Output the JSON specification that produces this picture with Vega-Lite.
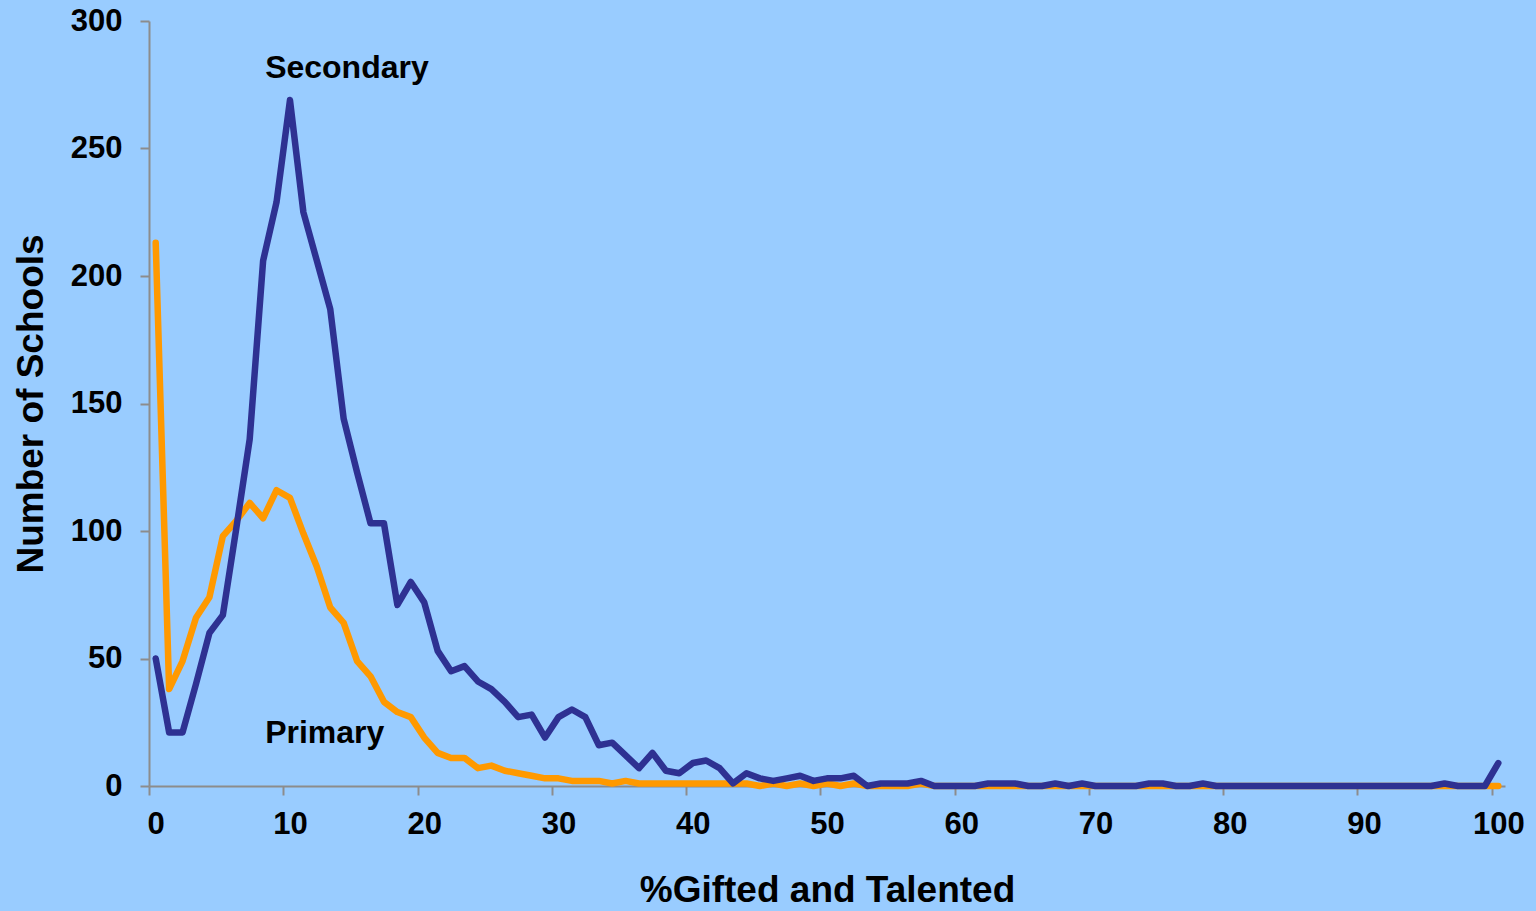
{
  "$schema": "https://vega.github.io/schema/vega-lite/v6.json",
  "width": 1356,
  "height": 765,
  "autosize": {"type": "none"},
  "padding": {"left": 149, "top": 21, "right": 31, "bottom": 125},
  "background": "#99CCFF",
  "config": {
    "view": {"stroke": null},
    "font": "Liberation Sans",
    "axis": {
      "domainColor": "#8C8C8C",
      "domainWidth": 2,
      "tickColor": "#8C8C8C",
      "tickWidth": 2,
      "tickSize": 9,
      "grid": false,
      "labelFont": "Liberation Sans",
      "labelFontWeight": "bold",
      "labelFontSize": 31,
      "labelColor": "#000000",
      "titleFont": "Liberation Sans",
      "titleFontWeight": "bold",
      "titleFontSize": 37,
      "titleColor": "#000000"
    }
  },
  "datasets": {
    "primary": [
      {"pct":0,"schools":213},{"pct":1,"schools":38},{"pct":2,"schools":49},{"pct":3,"schools":66},{"pct":4,"schools":74},
      {"pct":5,"schools":98},{"pct":6,"schools":104},{"pct":7,"schools":111},{"pct":8,"schools":105},{"pct":9,"schools":116},
      {"pct":10,"schools":113},{"pct":11,"schools":99},{"pct":12,"schools":86},{"pct":13,"schools":70},{"pct":14,"schools":64},
      {"pct":15,"schools":49},{"pct":16,"schools":43},{"pct":17,"schools":33},{"pct":18,"schools":29},{"pct":19,"schools":27},
      {"pct":20,"schools":19},{"pct":21,"schools":13},{"pct":22,"schools":11},{"pct":23,"schools":11},{"pct":24,"schools":7},
      {"pct":25,"schools":8},{"pct":26,"schools":6},{"pct":27,"schools":5},{"pct":28,"schools":4},{"pct":29,"schools":3},
      {"pct":30,"schools":3},{"pct":31,"schools":2},{"pct":32,"schools":2},{"pct":33,"schools":2},{"pct":34,"schools":1},
      {"pct":35,"schools":2},{"pct":36,"schools":1},{"pct":37,"schools":1},{"pct":38,"schools":1},{"pct":39,"schools":1},
      {"pct":40,"schools":1},{"pct":41,"schools":1},{"pct":42,"schools":1},{"pct":43,"schools":1},{"pct":44,"schools":1},
      {"pct":45,"schools":0},{"pct":46,"schools":1},{"pct":47,"schools":0},{"pct":48,"schools":1},{"pct":49,"schools":0},
      {"pct":50,"schools":1},{"pct":51,"schools":0},{"pct":52,"schools":1},{"pct":53,"schools":0},{"pct":54,"schools":0},
      {"pct":55,"schools":0},{"pct":56,"schools":0},{"pct":57,"schools":1},{"pct":58,"schools":0},{"pct":59,"schools":0},
      {"pct":60,"schools":0},{"pct":61,"schools":0},{"pct":62,"schools":0},{"pct":63,"schools":0},{"pct":64,"schools":0},
      {"pct":65,"schools":0},{"pct":66,"schools":0},{"pct":67,"schools":0},{"pct":68,"schools":0},{"pct":69,"schools":0},
      {"pct":70,"schools":0},{"pct":71,"schools":0},{"pct":72,"schools":0},{"pct":73,"schools":0},{"pct":74,"schools":0},
      {"pct":75,"schools":0},{"pct":76,"schools":0},{"pct":77,"schools":0},{"pct":78,"schools":0},{"pct":79,"schools":0},
      {"pct":80,"schools":0},{"pct":81,"schools":0},{"pct":82,"schools":0},{"pct":83,"schools":0},{"pct":84,"schools":0},
      {"pct":85,"schools":0},{"pct":86,"schools":0},{"pct":87,"schools":0},{"pct":88,"schools":0},{"pct":89,"schools":0},
      {"pct":90,"schools":0},{"pct":91,"schools":0},{"pct":92,"schools":0},{"pct":93,"schools":0},{"pct":94,"schools":0},
      {"pct":95,"schools":0},{"pct":96,"schools":0},{"pct":97,"schools":0},{"pct":98,"schools":0},{"pct":99,"schools":0},
      {"pct":100,"schools":0}
    ],
    "secondary": [
      {"pct":0,"schools":50},{"pct":1,"schools":21},{"pct":2,"schools":21},{"pct":3,"schools":40},{"pct":4,"schools":60},
      {"pct":5,"schools":67},{"pct":6,"schools":101},{"pct":7,"schools":136},{"pct":8,"schools":206},{"pct":9,"schools":229},
      {"pct":10,"schools":269},{"pct":11,"schools":225},{"pct":12,"schools":206},{"pct":13,"schools":187},{"pct":14,"schools":144},
      {"pct":15,"schools":123},{"pct":16,"schools":103},{"pct":17,"schools":103},{"pct":18,"schools":71},{"pct":19,"schools":80},
      {"pct":20,"schools":72},{"pct":21,"schools":53},{"pct":22,"schools":45},{"pct":23,"schools":47},{"pct":24,"schools":41},
      {"pct":25,"schools":38},{"pct":26,"schools":33},{"pct":27,"schools":27},{"pct":28,"schools":28},{"pct":29,"schools":19},
      {"pct":30,"schools":27},{"pct":31,"schools":30},{"pct":32,"schools":27},{"pct":33,"schools":16},{"pct":34,"schools":17},
      {"pct":35,"schools":12},{"pct":36,"schools":7},{"pct":37,"schools":13},{"pct":38,"schools":6},{"pct":39,"schools":5},
      {"pct":40,"schools":9},{"pct":41,"schools":10},{"pct":42,"schools":7},{"pct":43,"schools":1},{"pct":44,"schools":5},
      {"pct":45,"schools":3},{"pct":46,"schools":2},{"pct":47,"schools":3},{"pct":48,"schools":4},{"pct":49,"schools":2},
      {"pct":50,"schools":3},{"pct":51,"schools":3},{"pct":52,"schools":4},{"pct":53,"schools":0},{"pct":54,"schools":1},
      {"pct":55,"schools":1},{"pct":56,"schools":1},{"pct":57,"schools":2},{"pct":58,"schools":0},{"pct":59,"schools":0},
      {"pct":60,"schools":0},{"pct":61,"schools":0},{"pct":62,"schools":1},{"pct":63,"schools":1},{"pct":64,"schools":1},
      {"pct":65,"schools":0},{"pct":66,"schools":0},{"pct":67,"schools":1},{"pct":68,"schools":0},{"pct":69,"schools":1},
      {"pct":70,"schools":0},{"pct":71,"schools":0},{"pct":72,"schools":0},{"pct":73,"schools":0},{"pct":74,"schools":1},
      {"pct":75,"schools":1},{"pct":76,"schools":0},{"pct":77,"schools":0},{"pct":78,"schools":1},{"pct":79,"schools":0},
      {"pct":80,"schools":0},{"pct":81,"schools":0},{"pct":82,"schools":0},{"pct":83,"schools":0},{"pct":84,"schools":0},
      {"pct":85,"schools":0},{"pct":86,"schools":0},{"pct":87,"schools":0},{"pct":88,"schools":0},{"pct":89,"schools":0},
      {"pct":90,"schools":0},{"pct":91,"schools":0},{"pct":92,"schools":0},{"pct":93,"schools":0},{"pct":94,"schools":0},
      {"pct":95,"schools":0},{"pct":96,"schools":1},{"pct":97,"schools":0},{"pct":98,"schools":0},{"pct":99,"schools":0},
      {"pct":100,"schools":9}
    ],
    "labels": [
      {"pct": 8.15, "schools": 277.8, "label": "Secondary"},
      {"pct": 8.15, "schools": 16.9, "label": "Primary"}
    ]
  },
  "encoding": {
    "x": {
      "field": "pct",
      "type": "quantitative",
      "scale": {"domain": [-0.5, 100.5], "nice": false, "zero": false},
      "axis": {
        "title": "%Gifted and Talented",
        "values": [0, 10, 20, 30, 40, 50, 60, 70, 80, 90, 100],
        "tickOffset": -6.7,
        "labelOffset": 6.7,
        "labelPadding": 14,
        "titlePadding": 33,
        "labelFlush": false,
        "labelOverlap": false
      }
    },
    "y": {
      "field": "schools",
      "type": "quantitative",
      "scale": {"domain": [0, 300], "nice": false},
      "axis": {
        "title": "Number of Schools",
        "values": [0, 50, 100, 150, 200, 250, 300],
        "labelPadding": 18,
        "titlePadding": 20
      }
    }
  },
  "layer": [
    {
      "data": {"name": "primary"},
      "mark": {"type": "line", "color": "#FF9900", "strokeWidth": 6.5, "strokeCap": "round", "strokeJoin": "round"}
    },
    {
      "data": {"name": "secondary"},
      "mark": {"type": "line", "color": "#2E3192", "strokeWidth": 6.5, "strokeCap": "round", "strokeJoin": "round"}
    },
    {
      "data": {"name": "labels"},
      "mark": {"type": "text", "align": "left", "baseline": "alphabetic", "font": "Liberation Sans", "fontWeight": "bold", "fontSize": 32, "color": "#000000"},
      "encoding": {"text": {"field": "label", "type": "nominal"}}
    }
  ]
}
